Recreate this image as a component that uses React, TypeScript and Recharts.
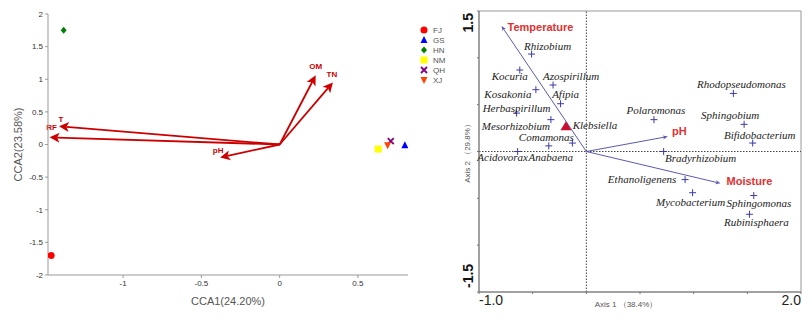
import React from "react";
import {
  ScatterChart,
  Scatter,
  XAxis,
  YAxis,
  ReferenceLine,
  ReferenceArea,
  Label,
} from "recharts";

// left panel: CCA of sampling sites
const sites = ["FJ", "GS", "HN", "NM", "QH", "XJ"];
const siteX = [-1.46, 0.8, -1.38, 0.63, 0.71, 0.69];
const siteY = [-1.7, -0.01, 1.75, -0.07, 0.05, -0.01];
const envNames = ["OM", "TN", "T", "RF", "pH"];
const envX = [0.23, 0.34, -1.41, -1.47, -0.38];
const envY = [1.06, 0.95, 0.28, 0.11, -0.2];
const cca1Ticks = [-1, -0.5, 0, 0.5];
const cca2Ticks = [-2, -1.5, -1, -0.5, 0, 0.5, 1, 1.5, 2];

// right panel: genera vs environmental factors
const genera = [
  "Rhizobium", "Kocuria", "Azospirillum", "Kosakonia", "Afipia", "Herbaspirillum",
  "Mesorhizobium", "Comamonas", "Anabaena", "Acidovorax", "Polaromonas",
  "Rhodopseudomonas", "Sphingobium", "Bifidobacterium", "Bradyrhizobium",
  "Ethanoligenens", "Mycobacterium", "Sphingomonas", "Rubinisphaera",
];
const generaX = [-0.51, -0.62, -0.31, -0.47, -0.24, -0.65, -0.33, -0.13, -0.35, -0.64, 0.63, 1.37, 1.47, 1.55, 0.72, 0.92, 0.99, 1.56, 1.52];
const generaY = [1.04, 0.87, 0.71, 0.66, 0.51, 0.41, 0.34, 0.09, 0.06, 0.0, 0.34, 0.62, 0.29, 0.09, 0.0, -0.3, -0.44, -0.47, -0.67];
const keyGenus = ["Klebsiella"];
const keyX = [-0.19];
const keyY = [0.27];
const factors = ["Temperature", "pH", "Moisture"];
const factorX = [-0.79, 0.76, 1.25];
const factorY = [1.34, 0.16, -0.34];
const axis1Ticks = [-1, -0.5, 0, 0.5, 1, 1.5, 2];
const axis2Ticks = [-1.5, -1, -0.5, 0, 0.5, 1, 1.5];

// styling
const siteStyle: Record<string, { color: string; shape: string }> = {
  FJ: { color: "#ff0000", shape: "circle" },
  GS: { color: "#0000ff", shape: "triangle" },
  HN: { color: "#008000", shape: "diamond" },
  NM: { color: "#ffff00", shape: "square" },
  QH: { color: "#800080", shape: "x" },
  XJ: { color: "#ff4500", shape: "down" },
};
const envLabelOffset: Record<string, [number, number]> = {
  OM: [0, -9], TN: [-1, -8], T: [2, -7], RF: [2, -10], pH: [-2, -7],
};
const genusLabelOffset: Record<string, [number, number]> = {
  Rhizobium: [16, -8], Kocuria: [-10, 6], Azospirillum: [18, -9], Kosakonia: [-28, 4],
  Afipia: [5, -10], Herbaspirillum: [0, -5], Mesorhizobium: [-35, 6], Comamonas: [-26, -6],
  Anabaena: [2, 11], Acidovorax: [-15, 5], Polaromonas: [2, -10], Rhodopseudomonas: [8, -9],
  Sphingobium: [-14, -9], Bifidobacterium: [7, -8], Bradyrhizobium: [37, 6],
  Ethanoligenens: [-43, -1], Mycobacterium: [-2, 9], Sphingomonas: [5, 7], Rubinisphaera: [7, 8],
  Klebsiella: [29, -1],
};
const factorLabelOffset: Record<string, [number, number]> = {
  Temperature: [6, 1], pH: [4, -6], Moisture: [6, -2],
};

const SANS = "'Liberation Sans', Arial, sans-serif";
const SERIF = "'Liberation Serif', 'Times New Roman', serif";

function Arrow(props: any) {
  const { x1, y1, x2, y2, color, head, half, sw, label, off, fontSize, fontWeight } = props;
  const ang = Math.atan2(y2 - y1, x2 - x1);
  const bx = x2 - head * Math.cos(ang);
  const by = y2 - head * Math.sin(ang);
  const px = -Math.sin(ang) * half;
  const py = Math.cos(ang) * half;
  const mx = x2 - head * 0.75 * Math.cos(ang);
  const my = y2 - head * 0.75 * Math.sin(ang);
  return (
    <g>
      <line x1={x1} y1={y1} x2={mx} y2={my} stroke={color} strokeWidth={sw} />
      <polygon points={`${x2},${y2} ${bx + px},${by + py} ${mx},${my} ${bx - px},${by - py}`} fill={color} />
      <text
        x={x2 + off[0]}
        y={y2 + off[1]}
        textAnchor={props.anchor}
        dominantBaseline="central"
        fontFamily={SANS}
        fontSize={fontSize}
        fontWeight={fontWeight}
        fill={props.textColor}
      >
        {label}
      </text>
    </g>
  );
}

function SiteMark(props: any) {
  const { cx, cy, payload } = props;
  const st = siteStyle[payload.name];
  const c = st.color;
  switch (st.shape) {
    case "circle":
      return <circle cx={cx} cy={cy} r={3.5} fill={c} />;
    case "triangle":
      return <polygon points={`${cx},${cy - 4} ${cx + 3.5},${cy + 3} ${cx - 3.5},${cy + 3}`} fill={c} />;
    case "diamond":
      return <polygon points={`${cx},${cy - 3.5} ${cx + 3},${cy} ${cx},${cy + 3.5} ${cx - 3},${cy}`} fill={c} />;
    case "square":
      return <rect x={cx - 3.5} y={cy - 3.5} width={7} height={7} fill={c} />;
    case "x":
      return (
        <path d={`M${cx - 3},${cy - 3}L${cx + 3},${cy + 3}M${cx + 3},${cy - 3}L${cx - 3},${cy + 3}`} stroke={c} strokeWidth={1.8} />
      );
    default:
      return <polygon points={`${cx - 3.5},${cy - 3} ${cx + 3.5},${cy - 3} ${cx},${cy + 4}`} fill={c} />;
  }
}

function SiteLegend() {
  return (
    <div style={{ position: "absolute", left: 419, top: 25, fontFamily: SANS, fontSize: 8, color: "#555" }}>
      {sites.map((s) => (
        <div key={s} style={{ height: 10, display: "flex", alignItems: "center" }}>
          <svg width={10} height={10} style={{ marginRight: 4 }}>
            <SiteMark cx={5} cy={5} payload={{ name: s }} />
          </svg>
          <span>{s}</span>
        </div>
      ))}
    </div>
  );
}

function GenusMark(props: any) {
  const { cx, cy, payload } = props;
  const [dx, dy] = genusLabelOffset[payload.name] ?? [0, -9];
  return (
    <g>
      <path d={`M${cx - 3.5},${cy}H${cx + 3.5}M${cx},${cy - 3.5}V${cy + 3.5}`} stroke="#3c3ca8" strokeWidth={1} />
      <text x={cx + dx} y={cy + dy} textAnchor="middle" dominantBaseline="central" fontFamily={SERIF} fontStyle="italic" fontSize={11} fill="#222">
        {payload.name}
      </text>
    </g>
  );
}

function KeyMark(props: any) {
  const { cx, cy, payload } = props;
  const [dx, dy] = genusLabelOffset[payload.name];
  return (
    <g>
      <polygon points={`${cx},${cy - 5} ${cx + 5.5},${cy + 4} ${cx - 5.5},${cy + 4}`} fill="#c8102e" />
      <text x={cx + dx} y={cy + dy} textAnchor="middle" dominantBaseline="central" fontFamily={SERIF} fontStyle="italic" fontSize={11} fill="#222">
        {payload.name}
      </text>
    </g>
  );
}

function Axis1Tick(p: any) {
  const v = p.payload.value;
  if (v !== -1 && v !== 2) return <g />;
  return (
    <text x={p.x} y={p.y + 9} textAnchor={v === -1 ? "start" : "end"} fontFamily={SANS} fontSize={14} fill="#222">
      {v.toFixed(1)}
    </text>
  );
}

function Axis2Tick(p: any) {
  const v = p.payload.value;
  if (v !== -1.5 && v !== 1.5) return <g />;
  const x = p.x - 2;
  const y = v > 0 ? p.y + 2 : p.y - 4;
  return (
    <text
      x={x}
      y={y}
      transform={`rotate(-90, ${x}, ${y})`}
      textAnchor={v > 0 ? "end" : "start"}
      fontFamily={SANS}
      fontSize={14}
      fontWeight="bold"
      fill="#111"
    >
      {String(v)}
    </text>
  );
}

export default function App() {
  const siteData = sites.map((s, i) => [{ name: s, x: siteX[i], y: siteY[i] }]);
  const genusData = genera.map((g, i) => ({ name: g, x: generaX[i], y: generaY[i] }));
  const keyData = keyGenus.map((g, i) => ({ name: g, x: keyX[i], y: keyY[i] }));

  return (
    <div style={{ position: "absolute", left: 0, top: 0, width: 812, height: 321, background: "#fff" }}>
      <div style={{ position: "absolute", left: 0, top: 0 }}>
        <ScatterChart width={420} height={321} margin={{ top: 14, right: 12, bottom: 0, left: 0 }}>
          <XAxis
            type="number"
            dataKey="x"
            domain={[-1.48, 0.82]}
            ticks={cca1Ticks}
            allowDataOverflow
            height={46}
            tickSize={3}
            stroke="#999"
            tick={{ fontSize: 8, fill: "#333", fontFamily: SANS }}
          >
            <Label value="CCA1(24.20%)" position="insideBottom" offset={16} style={{ fontSize: 11, fill: "#555", fontFamily: SANS }} />
          </XAxis>
          <YAxis
            type="number"
            dataKey="y"
            domain={[-2, 2]}
            ticks={cca2Ticks}
            width={48}
            tickSize={3}
            stroke="#999"
            tick={{ fontSize: 8, fill: "#333", fontFamily: SANS }}
          >
            <Label
              value="CCA2(23.58%)"
              angle={-90}
              position="insideLeft"
              offset={18}
              style={{ fontSize: 11, fill: "#555", fontFamily: SANS, textAnchor: "middle" }}
            />
          </YAxis>
          {envNames.map((n, i) => (
            <ReferenceLine
              key={n}
              segment={[{ x: 0, y: 0 }, { x: envX[i], y: envY[i] }]}
              stroke="#cc0000"
              shape={(p: any) => (
                <Arrow
                  {...p}
                  color="#cc0000"
                  head={10}
                  half={5}
                  sw={1.8}
                  label={n}
                  off={envLabelOffset[n]}
                  anchor="middle"
                  fontSize={8}
                  fontWeight="bold"
                  textColor="#cc0000"
                />
              )}
            />
          ))}
          {sites.map((s, i) => (
            <Scatter key={s} name={s} data={siteData[i]} fill={siteStyle[s].color} shape={SiteMark} isAnimationActive={false} />
          ))}
        </ScatterChart>
      </div>
      <SiteLegend />
      <div style={{ position: "absolute", left: 420, top: 0 }}>
        <ScatterChart width={392} height={321} margin={{ top: 11, right: 11, bottom: 0, left: 0 }}>
          <XAxis
            type="number"
            dataKey="x"
            domain={[-1, 2]}
            ticks={axis1Ticks}
            height={29}
            tickSize={2}
            stroke="#777"
            tick={Axis1Tick}
          >
            <Label
              content={(p: any) => (
                <text
                  x={p.viewBox.x + p.viewBox.width / 2 - 14}
                  y={p.viewBox.y + 15}
                  textAnchor="middle"
                  fontFamily={SANS}
                  fontSize={8}
                  fill="#555"
                >
                  Axis 1 （38.4%）
                </text>
              )}
            />
          </XAxis>
          <YAxis
            type="number"
            dataKey="y"
            domain={[-1.5, 1.5]}
            ticks={axis2Ticks}
            width={59}
            tickSize={2}
            stroke="#777"
            tick={Axis2Tick}
          >
            <Label
              value="Axis 2 （29.8%）"
              angle={-90}
              position="insideLeft"
              offset={47}
              style={{ fontSize: 8, fill: "#555", fontFamily: SANS, textAnchor: "middle" }}
            />
          </YAxis>
          <ReferenceArea x1={-1} x2={2} y1={-1.5} y2={1.5} fill="none" fillOpacity={0} stroke="#999" strokeWidth={1} />
          <ReferenceLine x={0} stroke="#444" strokeDasharray="1.5 1.5" />
          <ReferenceLine y={0} stroke="#444" strokeDasharray="1.5 1.5" />
          {factors.map((f, i) => (
            <ReferenceLine
              key={f}
              segment={[{ x: 0, y: 0 }, { x: factorX[i], y: factorY[i] }]}
              stroke="#5a5ab4"
              shape={(p: any) => (
                <Arrow
                  {...p}
                  color="#5a5ab4"
                  head={5}
                  half={2}
                  sw={1}
                  label={f}
                  off={factorLabelOffset[f]}
                  anchor="start"
                  fontSize={11}
                  fontWeight="bold"
                  textColor="#e03030"
                />
              )}
            />
          ))}
          <Scatter name="genera" data={genusData} fill="#3c3ca8" shape={GenusMark} isAnimationActive={false} />
          <Scatter name="key" data={keyData} fill="#c8102e" shape={KeyMark} isAnimationActive={false} />
        </ScatterChart>
      </div>
    </div>
  );
}
